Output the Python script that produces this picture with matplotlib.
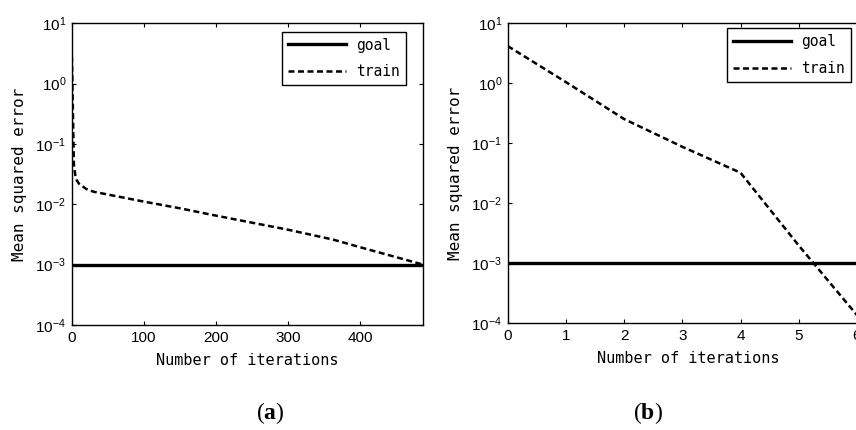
import matplotlib
matplotlib.use("Agg")
import matplotlib.pyplot as plt
from matplotlib import font_manager

# pick a narrow sans for the tick numbers if it is there
names = set(f.name for f in font_manager.fontManager.ttflist)
tickfont = 'Liberation Sans Narrow' if 'Liberation Sans Narrow' in names else 'Liberation Sans'

plt.rcParams['font.family'] = [tickfont, 'DejaVu Sans']
plt.rcParams['mathtext.fontset'] = 'custom'
plt.rcParams['mathtext.rm'] = tickfont
plt.rcParams['mathtext.bf'] = 'Liberation Serif:bold'

# (a) training run, about 488 iterations
epochs_a = [0, 1, 2, 3, 5, 7, 10, 20, 30, 53, 100, 150, 200, 300, 363, 400, 488]
train_a = [4.1, 0.9, 0.2, 0.045, 0.03, 0.025, 0.022, 0.018, 0.0162, 0.0143,
           0.0111, 0.0086, 0.0065, 0.0038, 0.0026, 0.00195, 0.001]
# (b) training run, 6 iterations
epochs_b = [0, 1, 2, 3, 4, 5, 6]
train_b = [4.1, 1.03, 0.25, 0.0865, 0.032, 0.00197, 0.000137]
goal = 1e-3

xticks_a = [0, 100, 200, 300, 400]
xticks_b = [0, 1, 2, 3, 4, 5, 6]
yticks = [1e-4, 1e-3, 1e-2, 1e-1, 1e0, 1e1]

fig = plt.figure(figsize=(8.56, 4.30), dpi=100)

ax1 = fig.add_axes([0.0838, 0.2442, 0.4107, 0.7016])
ax2 = fig.add_axes([0.5931, 0.2481, 0.4209, 0.6990])

panels = [(ax1, epochs_a, train_a, xticks_a, 488, (0.95, 0.972), '(a)', 0.3154),
          (ax2, epochs_b, train_b, xticks_b, 6.19, (0.952, 0.981), '(b)', 0.7564)]

for ax, ep, tr, xt, xmax, anchor, cap, cx in panels:
    ax.axhline(goal, color='black', lw=2.4, label='goal')
    ln, = ax.plot(ep, tr, color='black', lw=1.8, ls='--', label='train')
    ln.set_dashes([2.4, 1.4])
    ax.set_yscale('log')
    ax.set_ylim(1e-4, 1e1)
    ax.set_xlim(0, xmax)
    ax.set_xticks(xt)
    ax.set_yticks(yticks)
    ax.minorticks_off()
    ax.tick_params(direction='in', top=True, right=True, length=3,
                   width=0.8, labelsize=11, pad=4)
    for s in ax.spines.values():
        s.set_linewidth(1.0)
    ax.set_xlabel('Number of iterations', family='DejaVu Sans Mono',
                  fontsize=11, labelpad=6)
    ax.set_ylabel('Mean squared error', family='DejaVu Sans Mono',
                  fontsize=11.5, labelpad=6)
    leg = ax.legend(loc='upper right', bbox_to_anchor=anchor, borderaxespad=0,
                    prop={'family': 'DejaVu Sans Mono', 'size': 10.5},
                    handlelength=4.0, handletextpad=0.7, labelspacing=0.8,
                    fancybox=False, framealpha=1, edgecolor='black')
    leg.get_frame().set_linewidth(1.0)
    fig.text(cx, 0.04, '($\\mathbf{' + cap[1] + '}$)', ha='center', va='center',
             family='Liberation Serif', fontsize=17)

fig.savefig('out.png', dpi=100)
